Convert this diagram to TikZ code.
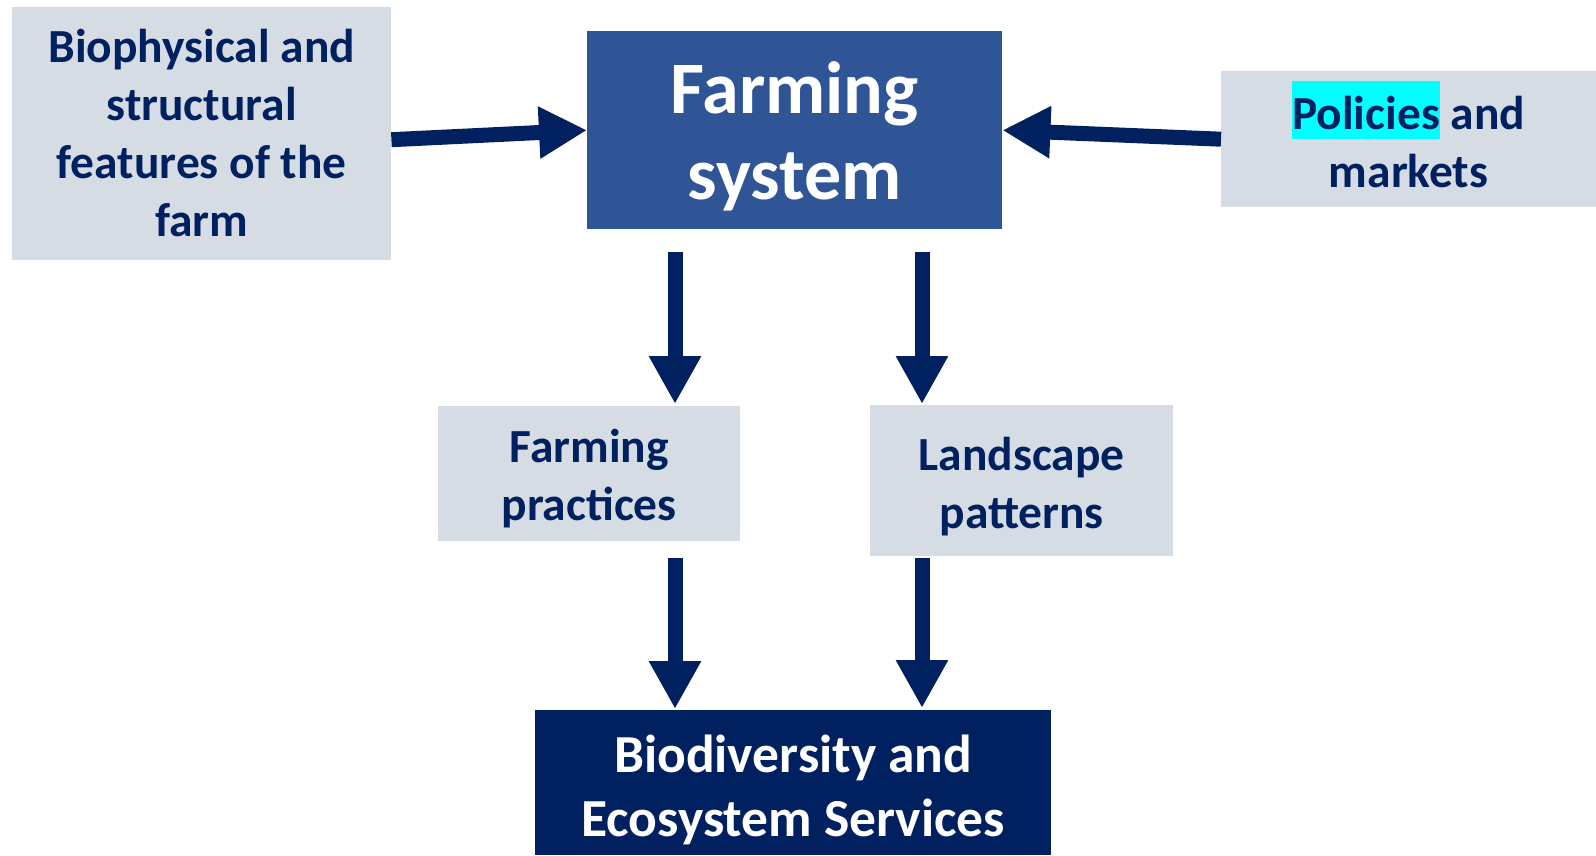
\documentclass[tikz,border=0pt]{standalone}
\usepackage{fontspec}
\setmainfont{Carlito}
\usetikzlibrary{arrows.meta}
\definecolor{boxgray}{HTML}{D5DCE4}
\definecolor{midblue}{HTML}{2F5597}
\definecolor{navy}{HTML}{002060}
\definecolor{hl}{HTML}{00FFFF}
\begin{document}
\begin{tikzpicture}[x=1pt,y=-1pt,
  panel/.style={anchor=north west, inner sep=0pt},
  graybox/.style={panel, fill=boxgray},
  smalltext/.style={inner sep=0pt, align=center, text=navy,
    font=\bfseries\fontsize{47.5}{58}\selectfont},
  arr/.style={draw=navy, line width=15pt, -{Triangle[width=49pt,length=48pt]}}]
\useasboundingbox (0,0) rectangle (1596,855);
\fill[white] (0,0) rectangle (1596,855);

% boxes
\node[graybox, minimum width=379pt, minimum height=253pt] (bio) at (12,7) {};
\node[panel, fill=midblue, minimum width=415pt, minimum height=198pt] (farm) at (587,31) {};
\node[graybox, minimum width=375pt, minimum height=136pt] (pol) at (1221,71) {};
\node[graybox, minimum width=302pt, minimum height=135pt] (pract) at (438,406) {};
\node[graybox, minimum width=303pt, minimum height=151pt] (land) at (870,405) {};
\node[panel, fill=navy, minimum width=516pt, minimum height=145pt] (bes) at (535,710) {};

% box texts
\node[smalltext] (bioT) at ([yshift=1pt]bio.center)
  {Biophysical and\\structural\\features of the\\farm};
\node[inner sep=0pt, align=center, text=white,
  font=\bfseries\fontsize{74}{86.5}\selectfont] (farmT) at ([yshift=-6pt]farm.center)
  {Farming\\system};
\node[smalltext] (polT) at ([yshift=5pt]pol.center)
  {{\setlength\fboxsep{0pt}\colorbox{hl}{\rule[-10pt]{0pt}{58pt}Policies}} and\\markets};
\node[smalltext] (practT) at ([yshift=-5pt]pract.center) {Farming\\practices};
\node[smalltext] (landT) at ([yshift=-6pt]land.center) {Landscape\\patterns};
\node[inner sep=0pt, align=center, text=white,
  font=\bfseries\fontsize{53.5}{64}\selectfont] (besT) at ([yshift=-7pt]bes.center)
  {Biodiversity and\\Ecosystem Services};

% vertical arrow columns
\coordinate (c1) at (675,0);
\coordinate (c2) at (922,0);

% connectors
\draw[arr] ([yshift=-6pt]bio.east) -- (farm.west);
\draw[arr] (pol.west) -- (farm.east);
\draw[arr] ([yshift=-23pt]farm.south -| c1) -- ([yshift=2pt]pract.north -| c1);
\draw[arr] ([yshift=-23pt]farm.south -| c2) -- ([yshift=1pt]land.north -| c2);
\draw[arr] ([yshift=-17pt]pract.south -| c1) -- ([yshift=1pt]bes.north -| c1);
\draw[arr] ([yshift=-2pt]land.south -| c2) -- ([yshift=2pt]bes.north -| c2);
\end{tikzpicture}
\end{document}
